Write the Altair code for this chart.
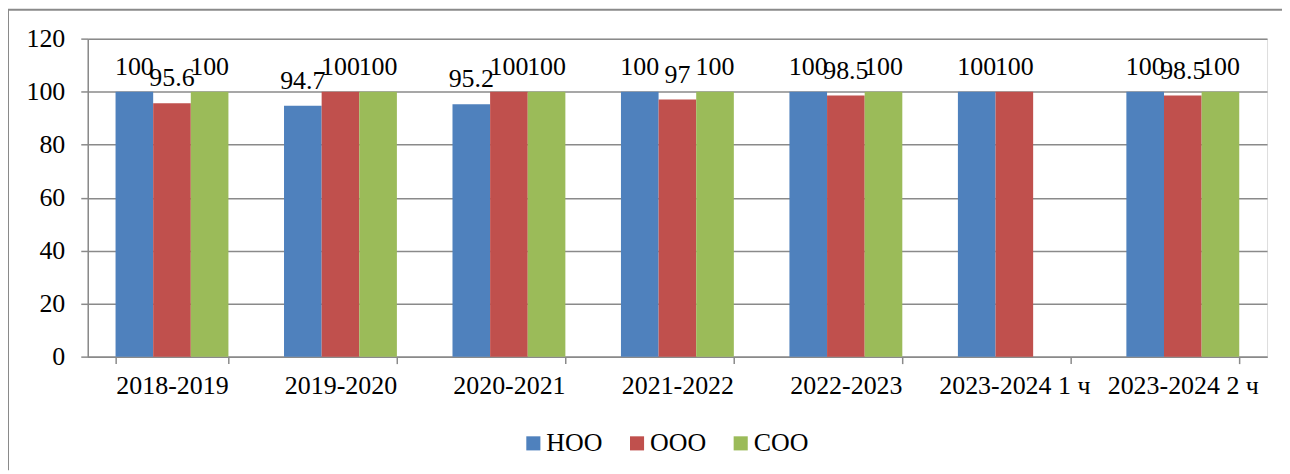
import altair as alt
import pandas as pd

categories = ["2018-2019", "2019-2020", "2020-2021", "2021-2022", "2022-2023", "2023-2024 1 ч", "2023-2024 2 ч"]
series = ["НОО", "ООО", "СОО"]
noo = [100, 94.7, 95.2, 100, 100, 100, 100]
ooo = [95.6, 100, 100, 97, 98.5, 100, 98.5]
soo = [100, 100, 100, 100, 100, None, 100]
colors = ["#4F81BD", "#C0504D", "#9BBB59"]

rows = []
for s, vals in zip(series, [noo, ooo, soo]):
    for c, v in zip(categories, vals):
        if v is not None:
            rows.append({"cat": c, "series": s, "value": v})
df = pd.DataFrame(rows)

FONT = "Liberation Serif"
FS = 26
W, H = 1183, 319
GRAY = "#8a8a8a"

x = alt.X("cat:N", sort=categories, title=None,
          scale=alt.Scale(paddingInner=0.33, paddingOuter=0.165),
          axis=alt.Axis(labelAngle=0, tickBand="extent", domainColor=GRAY, tickColor=GRAY,
                        tickSize=7, labelPadding=9, labelFont=FONT, labelFontSize=FS,
                        labelColor="black", domainWidth=1.5, tickWidth=1.5))
xo = alt.XOffset("series:N", sort=series, scale=alt.Scale(domain=series, paddingInner=0))
y = alt.Y("value:Q", title=None,
          scale=alt.Scale(domain=[0, 120], nice=False),
          axis=alt.Axis(values=[0, 20, 40, 60, 80, 100, 120], gridColor=GRAY, gridWidth=1.5,
                        domainColor=GRAY, tickColor=GRAY, tickSize=7, labelPadding=16,
                        labelFont=FONT, labelFontSize=FS, labelColor="black",
                        domainWidth=1.5, tickWidth=1.5))
color = alt.Color("series:N", sort=series,
                  scale=alt.Scale(domain=series, range=colors),
                  legend=alt.Legend(orient="none", legendX=434, legendY=393, direction="horizontal",
                                    title=None, symbolType="square", symbolSize=200,
                                    symbolStrokeWidth=0, labelFont=FONT, labelFontSize=FS,
                                    labelColor="black", columnPadding=21, labelOffset=0))

base = alt.Chart(df)
bars = base.mark_bar().encode(x=x, xOffset=xo, y=y, color=color)
labels = base.mark_text(font=FONT, fontSize=FS, baseline="alphabetic", dy=-17, color="black").encode(
    x=x, xOffset=xo, y=y, text=alt.Text("value:Q", format="~g"))

one = alt.Chart(pd.DataFrame({"a": [0]}))
frame_top = one.mark_rule(stroke=GRAY, strokeWidth=2).encode(
    x=alt.value(-80), x2=alt.value(W + 15), y=alt.value(-29))
frame_left = one.mark_rule(stroke=GRAY, strokeWidth=2).encode(
    x=alt.value(-80), y=alt.value(-29), y2=alt.value(H + 114))

chart = alt.layer(frame_top, frame_left, bars, labels).properties(
    width=W, height=H,
    autosize=alt.AutoSizeParams(type="none"),
    padding={"left": 80, "top": 30, "right": 15, "bottom": 114},
).configure_view(stroke=None).configure(background="white")

chart.save("out.html", embed_options={"renderer": "svg", "actions": False})
